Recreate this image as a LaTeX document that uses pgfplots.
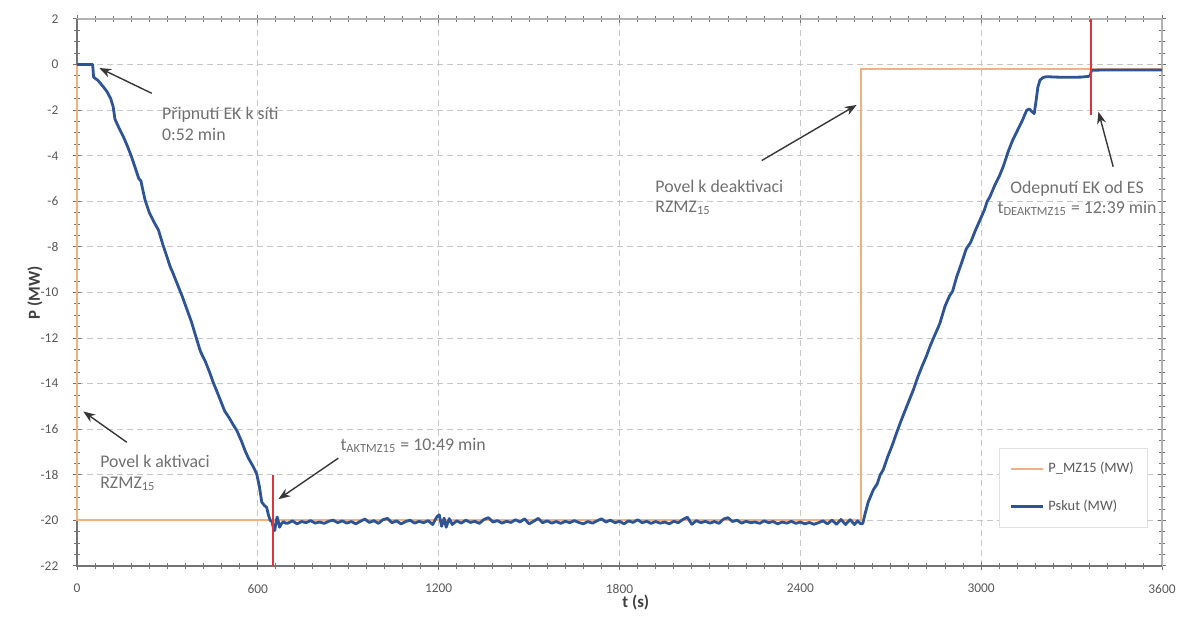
\documentclass[border=0pt]{standalone}
\usepackage{fontspec}
\setmainfont{Carlito}
\usepackage{pgfplots}
\pgfplotsset{compat=1.18}
\usetikzlibrary{arrows.meta}
\definecolor{pblue}{RGB}{46,84,150}
\definecolor{porange}{RGB}{244,176,128}
\definecolor{pred}{RGB}{222,52,62}
\definecolor{annot}{RGB}{112,112,112}
\definecolor{arr}{RGB}{55,55,55}
\begin{document}
\begin{tikzpicture}
\begin{axis}[name=ax, scale only axis, width=542.5pt, height=273.5pt,
 xmin=0, xmax=3600, ymin=-22, ymax=2,
 xtick={0,600,...,3600}, ytick={-22,-20,...,2},
 minor x tick num=9, minor y tick num=3,
 grid=major, major grid style={densely dashed, black!22, line width=0.5pt},
 axis line style={black!30, line width=0.6pt},
 tick style={black!55, line width=0.5pt},
 tick align=center, major tick length=4pt, minor tick length=3pt,
 ticklabel style={font=\fontsize{6.7}{7}\selectfont, text=black!65},
 /pgf/number format/assume math mode=true,
 /pgf/number format/1000 sep={},
 xticklabel shift=3.5pt, yticklabel shift=3.8pt,
 xlabel={t (s)}, ylabel={P (MW)},
 label style={font=\bfseries\fontsize{8.4}{9}\selectfont, text=black!75},
 xlabel style={at={(axis description cs:0.515,-0.0676)}, anchor=center},
 ylabel style={at={(axis description cs:-0.0387,0.5)}, anchor=center},
 legend style={at={(rel axis cs:0.85,0.216)}, anchor=north west, draw=black!12,
   font=\fontsize{7.2}{7.5}\selectfont, text=black!65, row sep=8pt,
   inner xsep=5pt, inner ysep=5pt, cells={anchor=west}},
 legend image code/.code={\draw[#1] (0pt,0pt) -- (16pt,0pt);},
 clip=false
]
\draw[black!55, line width=0.6pt] (rel axis cs:0,1) -- (rel axis cs:0,0) -- (rel axis cs:1,0);
\addplot[porange, line width=1pt] coordinates {(0,0) (0,-20) (2600,-20) (2600,-0.2) (3600,-0.2)};
\addlegendentry{P\_MZ15 (MW)}
\addplot[pblue, line width=1.4pt, line join=round] coordinates {
(0,0) (52,0) (55,-0.55) (70,-0.7) (87,-0.97) (100,-1.2) (112,-1.5) (120,-1.85)
(126,-2.4) (140,-2.8) (155,-3.2) (168,-3.6) (181,-4.05) (195,-4.6) (205,-5.0)
(212,-5.1) (220,-5.6) (226,-5.95) (240,-6.5) (255,-6.9) (270,-7.25) (285,-7.9)
(300,-8.5) (309,-8.86) (320,-9.2) (335,-9.7) (350,-10.2) (365,-10.75) (380,-11.3)
(397,-12.05) (410,-12.6) (425,-13.0) (440,-13.5) (452,-13.95) (463,-14.3)
(478,-14.8) (490,-15.2) (505,-15.5) (518,-15.8) (530,-16.05) (545,-16.5)
(558,-16.95) (570,-17.3) (583,-17.6) (596,-17.95) (605,-18.5) (613,-19.2)
(622,-19.35) (629,-19.42) (636,-19.8) (641,-20.0) (647,-20.05) (652,-20.35)
(656,-20.45) (660,-20.1) (664,-19.85) (668,-20.05) (672,-20.3) (678,-20.15)
(685,-20.05) (692,-20.12)
(700,-20.12) (715,-20.02) (730,-20.15) (745,-20.05) (760,-20.10) (775,-20.01)
(790,-20.12) (805,-20.07) (820,-20.13) (835,-20.04) (850,-19.99) (865,-20.10)
(880,-20.02) (895,-20.12) (910,-20.05) (925,-20.15) (940,-20.04) (955,-19.94)
(970,-20.09) (985,-20.01) (1000,-20.13) (1015,-19.97) (1030,-19.91) (1045,-20.10)
(1060,-20.02) (1075,-20.15) (1090,-20.05) (1105,-19.99) (1120,-20.12) (1135,-20.04)
(1150,-20.10) (1165,-20.01) (1180,-20.18) (1195,-19.82) (1202,-19.76) (1210,-20.26)
(1218,-19.90) (1225,-20.30) (1235,-19.92) (1245,-20.18) (1260,-20.02) (1275,-20.12)
(1290,-19.99) (1305,-20.09) (1320,-20.04) (1335,-20.13) (1350,-19.96) (1365,-19.88)
(1380,-20.07) (1395,-20.01) (1410,-20.12) (1425,-20.04) (1440,-20.09) (1455,-19.97)
(1470,-20.07) (1485,-19.93) (1500,-20.15) (1515,-20.04) (1530,-19.91) (1545,-20.10)
(1560,-20.02) (1575,-20.12) (1590,-20.05) (1605,-20.13) (1620,-20.04) (1635,-20.10)
(1650,-20.01) (1665,-20.09) (1680,-20.15) (1695,-20.05) (1710,-20.12) (1725,-20.02)
(1740,-19.93) (1755,-20.07) (1770,-19.99) (1785,-20.10) (1800,-20.04) (1815,-20.15)
(1830,-20.02) (1845,-20.09) (1860,-19.97) (1875,-20.10) (1890,-20.04) (1905,-20.13)
(1920,-20.05) (1935,-20.12) (1950,-20.07) (1965,-20.15) (1980,-20.04) (1995,-20.10)
(2010,-19.96) (2025,-19.86) (2040,-20.17) (2055,-20.01) (2070,-20.10) (2085,-20.04)
(2100,-20.12) (2115,-20.05) (2130,-20.13) (2145,-19.94) (2160,-19.88) (2175,-20.05)
(2190,-19.99) (2205,-20.12) (2220,-20.04) (2235,-20.10) (2250,-20.07) (2265,-20.13)
(2280,-20.02) (2295,-20.10) (2310,-20.05) (2325,-20.15) (2340,-20.07) (2355,-20.12)
(2370,-20.04) (2385,-20.13) (2400,-20.07) (2415,-20.15) (2430,-20.09) (2445,-20.17)
(2460,-20.10) (2475,-20.02) (2490,-20.15) (2505,-19.99) (2520,-20.17) (2535,-19.96)
(2550,-20.18) (2565,-19.97) (2580,-20.18) (2590,-20.02) (2600,-20.15) (2607,-20.14)
(2615,-19.7) (2625,-19.2) (2642,-18.66) (2655,-18.4) (2665,-18.0) (2675,-17.78)
(2690,-17.2) (2705,-16.7) (2719,-16.17) (2735,-15.6) (2750,-15.1) (2762,-14.7)
(2775,-14.27) (2790,-13.7) (2805,-13.2) (2818,-12.8) (2830,-12.37) (2845,-11.9)
(2855,-11.6) (2863,-11.35) (2880,-10.6) (2895,-10.15) (2905,-9.95) (2919,-9.3)
(2935,-8.7) (2950,-8.1) (2965,-7.8) (2980,-7.3) (2996,-6.82) (3010,-6.4)
(3020,-6.0) (3029,-5.8) (3045,-5.3) (3060,-4.9) (3073,-4.48) (3090,-3.8)
(3105,-3.3) (3120,-2.9) (3135,-2.5) (3151,-2.0) (3160,-1.95) (3167,-2.05)
(3176,-2.15) (3182,-1.6) (3188,-1.0) (3195,-0.68) (3205,-0.57) (3217,-0.53)
(3250,-0.55) (3290,-0.56) (3330,-0.55) (3355,-0.52) (3362,-0.48) (3366,-0.25)
(3400,-0.24) (3600,-0.24)};
\addlegendentry{Pskut (MW)}
\addplot[pred, line width=1pt, forget plot] coordinates {(649,-18) (649,-22)};
\addplot[pred, line width=1pt, forget plot] coordinates {(3366,2) (3366,-2.2)};
% annotations
\begin{scope}[every node/.style={font=\fontsize{8.9}{10.4}\selectfont, text=annot, inner sep=0pt}]
\node[anchor=west, align=left] at (axis cs:281,-2.6) {Připnutí EK k síti\\0:52 min};
\node[anchor=west, align=left] at (axis cs:76,-17.9) {Povel k aktivaci\\RZMZ\textsubscript{15}};
\node[anchor=west] at (axis cs:873,-16.73) {t\textsubscript{AKTMZ15} = 10:49 min};
\node[anchor=west, align=left] at (axis cs:1918,-5.83) {Povel k deaktivaci\\RZMZ\textsubscript{15}};
\node[align=center] at (axis cs:3318,-5.87) {Odepnutí EK od ES\\t\textsubscript{DEAKTMZ15} = 12:39 min};
\end{scope}
\begin{scope}[arr, line width=0.7pt, -{Stealth[length=6pt,width=4.5pt]}]
\draw (axis cs:248,-1.26) -- (axis cs:74,-0.15);
\draw (axis cs:165,-16.57) -- (axis cs:21,-15.22);
\draw (axis cs:867,-17.27) -- (axis cs:668,-19.07);
\draw (axis cs:2272,-4.21) -- (axis cs:2587,-1.77);
\draw (axis cs:3438,-4.48) -- (axis cs:3389,-2.07);
\end{scope}
\end{axis}
\pgfresetboundingbox
\path ([xshift=-38.5pt,yshift=-26.5pt]ax.south west) rectangle ([xshift=14.5pt,yshift=9.5pt]ax.north east);
\end{tikzpicture}
\end{document}
